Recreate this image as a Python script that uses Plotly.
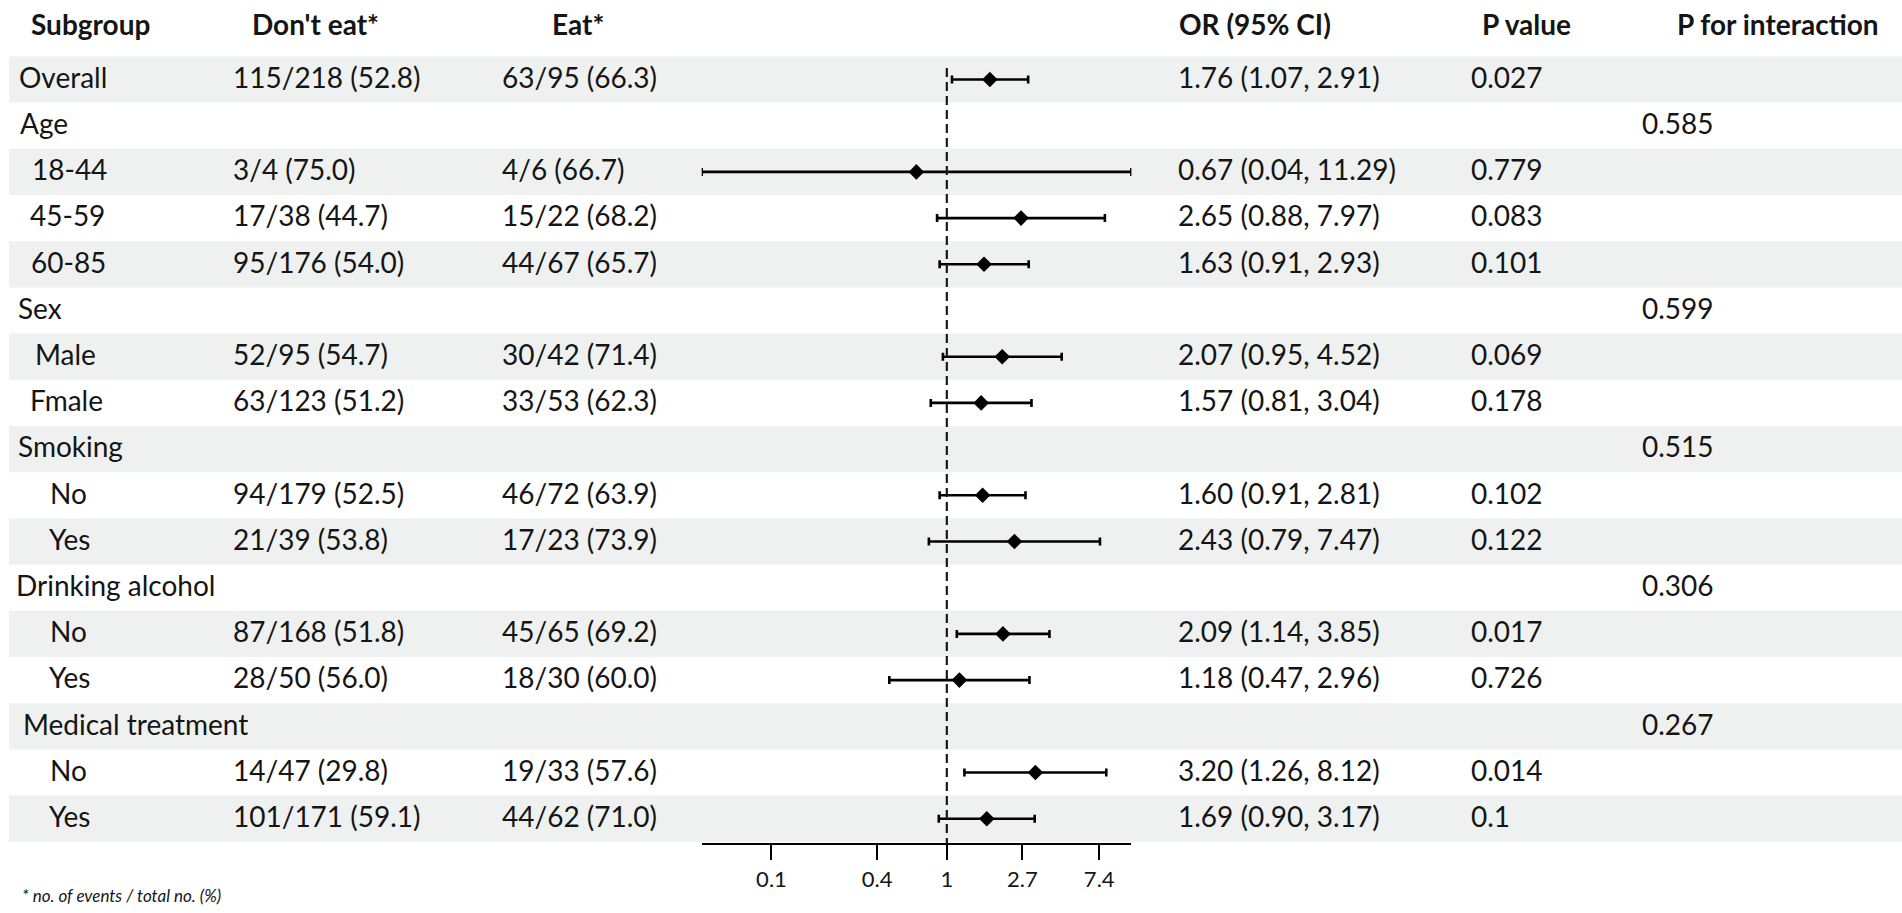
import plotly.graph_objects as go
import math

# ---------------- data ----------------
labels = ["Overall", "Age", "18-44", "45-59", "60-85", "Sex", "Male", "Fmale",
          "Smoking", "No", "Yes", "Drinking alcohol", "No", "Yes",
          "Medical treatment", "No", "Yes"]
dont_eat = ["115/218 (52.8)", "", "3/4 (75.0)", "17/38 (44.7)", "95/176 (54.0)", "",
            "52/95 (54.7)", "63/123 (51.2)", "", "94/179 (52.5)", "21/39 (53.8)", "",
            "87/168 (51.8)", "28/50 (56.0)", "", "14/47 (29.8)", "101/171 (59.1)"]
eat = ["63/95 (66.3)", "", "4/6 (66.7)", "15/22 (68.2)", "44/67 (65.7)", "",
       "30/42 (71.4)", "33/53 (62.3)", "", "46/72 (63.9)", "17/23 (73.9)", "",
       "45/65 (69.2)", "18/30 (60.0)", "", "19/33 (57.6)", "44/62 (71.0)"]
odds_ratio = [1.76, None, 0.67, 2.65, 1.63, None, 2.07, 1.57, None, 1.60, 2.43, None,
              2.09, 1.18, None, 3.20, 1.69]
ci_lower = [1.07, None, 0.04, 0.88, 0.91, None, 0.95, 0.81, None, 0.91, 0.79, None,
            1.14, 0.47, None, 1.26, 0.90]
ci_upper = [2.91, None, 11.29, 7.97, 2.93, None, 4.52, 3.04, None, 2.81, 7.47, None,
            3.85, 2.96, None, 8.12, 3.17]
p_value = ["0.027", "", "0.779", "0.083", "0.101", "", "0.069", "0.178", "", "0.102",
           "0.122", "", "0.017", "0.726", "", "0.014", "0.1"]
p_interaction = ["", "0.585", "", "", "", "0.599", "", "", "0.515", "", "", "0.306",
                 "", "", "0.267", "", ""]
headers = ["Subgroup", "Don't eat*", "Eat*", "OR (95% CI)", "P value", "P for interaction"]
tick_values = [0.1, 0.4, 1, 2.7, 7.4]
tick_labels = ["0.1", "0.4", "1", "2.7", "7.4"]
footnote = "* no. of events / total no. (%)"

# ---------------- layout config ----------------
W, H = 1902, 913
FONT = "Lato, 'Open Sans', sans-serif"
TXT = "#151515"
SHADE = "#eef1f0"
ROW0_PX = 79.5        # centre of first row (pixels from top)
PITCH = 46.2          # row height in pixels
AXIS_PX = 843         # pixel of x-axis line
label_x_px = [17, 18, 30, 28, 29, 16, 33, 28, 16, 48, 47, 14, 48, 47, 21, 48, 47]
header_x_px = [29, 250, 550, 1177, 1480, 1675]
col_x_px = {"dont": 231, "eat": 500, "or": 1176, "p": 1469, "pint": 1640}
FS = 28

def px2row(py):
    return (py - ROW0_PX) / PITCH

n = len(labels)
rows = list(range(n))

fig = go.Figure()

# forest plot points (only rows with estimates)
idx = [i for i in rows if odds_ratio[i] is not None]
xs = [odds_ratio[i] for i in idx]
ys = [i for i in idx]
err_plus = [ci_upper[i] - odds_ratio[i] for i in idx]
err_minus = [odds_ratio[i] - ci_lower[i] for i in idx]
fig.add_trace(go.Scatter(
    x=xs, y=ys, mode="markers",
    marker=dict(symbol="diamond", size=12, color="black"),
    error_x=dict(type="data", symmetric=False, array=err_plus, arrayminus=err_minus,
                 color="black", thickness=2.6, width=4),
    showlegend=False, hoverinfo="skip", cliponaxis=False,
))

shapes = []
# alternating shaded bands
for i in rows:
    if i % 2 == 0:
        shapes.append(dict(type="rect", xref="paper", yref="y",
                           x0=9 / W, x1=1, y0=i - 0.5, y1=i + 0.5,
                           fillcolor=SHADE, line=dict(width=0), layer="below"))
# reference line at OR = 1
shapes.append(dict(type="line", xref="x", yref="y", x0=1, x1=1,
                   y0=px2row(68), y1=px2row(AXIS_PX),
                   line=dict(color="#1a1a1a", width=2.2, dash="9px,5px"), layer="above"))

ann = []
def add_text(text, xpx, row, size=FS, bold=False, italic=False, yref="y", y=None):
    t = text
    if bold:
        t = "<b>" + t + "</b>"
    if italic:
        t = "<i>" + t + "</i>"
    ann.append(dict(text=t, xref="paper", x=xpx / W, yref=yref,
                    y=(row if y is None else y), xanchor="left", yanchor="middle",
                    showarrow=False, font=dict(family=FONT, size=size, color=TXT)))

TEXT_SHIFT = -0.06
hdr_row = px2row(24)
for h, hx in zip(headers, header_x_px):
    add_text(h, hx, hdr_row, bold=True)

for i in rows:
    r = i + TEXT_SHIFT
    add_text(labels[i], label_x_px[i], r)
    if dont_eat[i]:
        add_text(dont_eat[i], col_x_px["dont"], r)
    if eat[i]:
        add_text(eat[i], col_x_px["eat"], r)
    if odds_ratio[i] is not None:
        add_text(f"{odds_ratio[i]:.2f} ({ci_lower[i]:.2f}, {ci_upper[i]:.2f})",
                 col_x_px["or"], r)
    if p_value[i]:
        add_text(p_value[i], col_x_px["p"], r)
    if p_interaction[i]:
        add_text(p_interaction[i], col_x_px["pint"], r)

add_text(footnote, 20, None, size=17, italic=True, yref="paper", y=1 - 895 / H)

fig.update_layout(
    width=W, height=H, margin=dict(l=0, r=0, t=0, b=0, pad=0),
    paper_bgcolor="white", plot_bgcolor="rgba(0,0,0,0)",
    shapes=shapes, annotations=ann,
    xaxis=dict(type="log", domain=[701.7 / W, 1131.4 / W],
               range=[math.log10(min(v for v in ci_lower if v is not None)),
                      math.log10(max(v for v in ci_upper if v is not None))],
               showline=True, linecolor="black", linewidth=2.4,
               ticks="outside", ticklen=15, tickwidth=2.2, tickcolor="black",
               tickvals=tick_values, ticktext=tick_labels,
               tickfont=dict(family=FONT, size=22, color=TXT),
               showgrid=False, zeroline=False, fixedrange=True),
    yaxis=dict(domain=[1 - AXIS_PX / H, 1],
               range=[px2row(AXIS_PX), px2row(0)],
               visible=False, showgrid=False, zeroline=False, fixedrange=True),
)

fig.write_html("out.html", config={"displayModeBar": False},
               post_script="document.body.style.margin='0';document.body.style.overflow='hidden';")
